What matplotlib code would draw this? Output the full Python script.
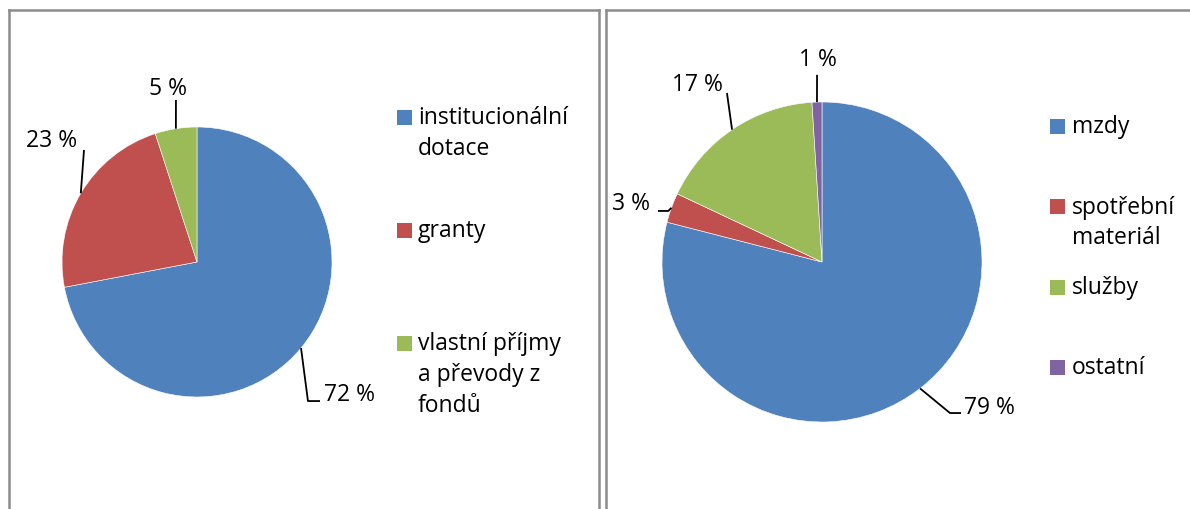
import matplotlib
matplotlib.use("Agg")
import matplotlib.pyplot as plt
from matplotlib.patches import Rectangle
from matplotlib.lines import Line2D
import numpy as np

# ---- data ----
left_categories = ["institucionální\ndotace", "granty", "vlastní příjmy\na převody z\nfondů"]
left_values = [72, 23, 5]
left_labels = ["72 %", "23 %", "5 %"]

right_categories = ["mzdy", "spotřební\nmateriál", "služby", "ostatní"]
right_values = [79, 3, 17, 1]
right_labels = ["79 %", "3 %", "17 %", "1 %"]

left_colors = ["#4F81BD", "#C0504D", "#9BBB59"]
right_colors = ["#4F81BD", "#C0504D", "#9BBB59", "#8064A2"]

FONT = ["Open Sans", "DejaVu Sans"]
FS = 16.5

W, H = 1190, 509
fig = plt.figure(figsize=(W / 100, H / 100), dpi=100)
fig.patch.set_facecolor("white")


def fx(px):
    return px / W


def fy(py):
    return 1 - py / H


# panel borders
border_col = "#8c8c8c"
for xs_, ys_ in [([8.5, 8.5], [9.5, 520]), ([8.5, 598.5], [9.5, 9.5]),
                 ([598.5, 598.5], [9.5, 520]), ([605.5, 605.5], [9.5, 520]),
                 ([605.5, 1195], [9.5, 9.5])]:
    fig.add_artist(Line2D([fx(v) for v in xs_], [fy(v) for v in ys_],
                          color=border_col, lw=1.8))


def make_pie(cx, cy, R, values, colors, labels, leaders, label_pos, label_ha):
    half = 1.35 * R
    ax = fig.add_axes([fx(cx - half), fy(cy + half), 2 * half / W, 2 * half / H])
    wedges, _ = ax.pie(values, colors=colors, startangle=90, counterclock=False,
                       radius=1.0, wedgeprops=dict(edgecolor="white", linewidth=0.4))
    lim = half / R
    ax.set_xlim(-lim, lim)
    ax.set_ylim(-lim, lim)
    ax.set_aspect("equal")
    ax.axis("off")
    for w, lab, lead, pos, ha in zip(wedges, labels, leaders, label_pos, label_ha):
        mid = np.deg2rad((w.theta1 + w.theta2) / 2)
        x0, y0 = np.cos(mid), np.sin(mid)
        xs = [x0] + [p[0] for p in lead]
        ys = [y0] + [p[1] for p in lead]
        ax.plot(xs, ys, color="black", lw=1.3, solid_capstyle="butt", clip_on=False)
        ax.text(pos[0], pos[1], lab, ha=ha, va="center", fontsize=FS, family=FONT,
                color="black", clip_on=False)
    return ax


# left pie: center (197,262) px, radius 135 px
make_pie(197, 262, 135, left_values, left_colors, left_labels,
         leaders=[[(0.822, -1.030), (0.911, -1.030)],
                  [(-0.837, 0.830)],
                  [(-0.156, 1.20)]],
         label_pos=[(0.94, -0.985), (-1.074, 0.896), (-0.215, 1.285)],
         label_ha=["left", "center", "center"])

# right pie: center (822,262) px, radius 160 px
make_pie(822, 262, 160, right_values, right_colors, right_labels,
         leaders=[[(0.80, -0.944), (0.869, -0.944)],
                  [(-0.961, 0.319), (-1.025, 0.319)],
                  [(-0.594, 1.056)],
                  [(-0.031, 1.17)]],
         label_pos=[(0.89, -0.912), (-1.075, 0.3625), (-0.781, 1.106), (-0.025, 1.2625)],
         label_ha=["left", "right", "center", "center"])


def legend(x_sq, x_txt, y_first, step, cats, colors, line_pitch=31):
    for i, (cat, col) in enumerate(zip(cats, colors)):
        yc = y_first + i * step
        fig.add_artist(Rectangle((fx(x_sq), fy(yc + 7.5)), 15 / W, 15 / H,
                                 facecolor=col, edgecolor="none"))
        for j, line in enumerate(cat.split("\n")):
            fig.text(fx(x_txt), fy(yc + 1 + j * line_pitch), line, ha="left", va="center",
                     fontsize=FS, family=FONT, color="black")


legend(397, 418, 117, 113, left_categories, left_colors)
legend(1050, 1072, 126, 80.5, right_categories, right_colors)

fig.savefig("out.png", dpi=100, facecolor="white")
